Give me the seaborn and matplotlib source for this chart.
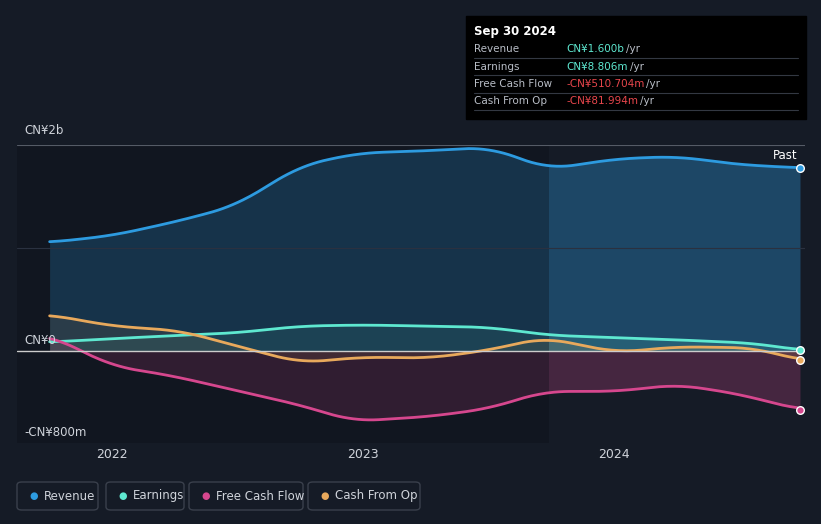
import numpy as np
import matplotlib.pyplot as plt
import matplotlib.patches as mpatches
import seaborn as sns

# x positions in fractional years
x_rev = [2021.75, 2022.0, 2022.27, 2022.49, 2022.75, 2022.98, 2023.26, 2023.5, 2023.74, 2024.01, 2024.25, 2024.49, 2024.74]
revenue = [0.95, 1.01, 1.14, 1.27, 1.62, 1.73, 1.75, 1.78, 1.59, 1.68, 1.70, 1.63, 1.60]
x_earn = [2021.75, 2022.0, 2022.27, 2022.49, 2022.75, 2023.0, 2023.5, 2023.74, 2024.25, 2024.56, 2024.74]
earnings = [0.08, 0.11, 0.14, 0.16, 0.22, 0.23, 0.21, 0.14, 0.10, 0.07, 0.009]
x_fcf = [2021.75, 2022.0, 2022.23, 2022.49, 2022.75, 2022.96, 2023.26, 2023.5, 2023.72, 2024.01, 2024.25, 2024.49, 2024.74]
fcf = [0.14, -0.13, -0.21, -0.34, -0.47, -0.61, -0.57, -0.50, -0.35, -0.35, -0.29, -0.37, -0.51]
x_cfo = [2021.75, 2022.0, 2022.27, 2022.49, 2022.75, 2023.0, 2023.26, 2023.5, 2023.72, 2024.01, 2024.25, 2024.56, 2024.74]
cfo = [0.32, 0.22, 0.18, 0.05, -0.10, -0.05, -0.06, 0.01, 0.12, -0.01, 0.04, 0.03, -0.08]

BG = "#151b26"
C_REV, C_EARN, C_FCF, C_CFO = "#2d9be0", "#5ee8d0", "#d6478e", "#e8a95c"

sns.set_style("dark")
fig = plt.figure(figsize=(8.21, 5.24), dpi=100, facecolor=BG)
ax = fig.add_axes([17/821, 1-443/524, 788/821, 298/524])
ax.set_facecolor(BG)

def smooth(xs, ys):
    xi = np.linspace(xs[0], xs[-1], 300)
    yi = np.interp(xi, xs, ys)
    k = 10
    pad = np.pad(yi, k, mode="edge")
    yi = np.convolve(pad, np.ones(2*k+1)/(2*k+1), mode="valid")
    yi[-1] = ys[-1]
    return xi, yi

for xs, ys, c, a in [(x_rev, revenue, C_REV, 0.35), (x_earn, earnings, C_EARN, 0.15),
                     (x_fcf, fcf, C_FCF, 0.25), (x_cfo, cfo, C_CFO, 0.15)]:
    xi, yi = smooth(xs, ys)
    ax.fill_between(xi, yi, 0, color=c, alpha=a, lw=0)
    sns.lineplot(x=xi, y=yi, ax=ax, color=c, lw=2)
    ax.scatter([xi[-1]], [yi[-1]], s=30, color=c, edgecolor="white", lw=1, zorder=5)

ax.axvspan(2021.62, 2023.74, color="#0b0f17", alpha=0.35, lw=0)
ax.axhline(0, color="#cccccc", lw=1)
ax.axhline(1.8, color="#555b66", lw=0.8)
ax.axhline(0.9, color="#2a3140", lw=0.8)
ax.set_xlim(2021.62, 2024.76)
ax.set_ylim(-0.8, 1.8)
ax.set_xticks([2022, 2023, 2024])
ax.set_xticklabels(["2022", "2023", "2024"], color="#cfd3da", fontsize=9)
ax.set_yticks([])
ax.tick_params(length=0)
ax.grid(False)
for s in ax.spines.values():
    s.set_visible(False)

fig.text(24/821, 1-131/524, "CN¥2b", color="#cfd3da", fontsize=8.5, va="center")
fig.text(24/821, 1-340/524, "CN¥0", color="#cfd3da", fontsize=8.5, va="center")
fig.text(24/821, 1-432/524, "-CN¥800m", color="#cfd3da", fontsize=8.5, va="center")
fig.text(797/821, 1-156/524, "Past", color="#ffffff", fontsize=8.5, va="center", ha="right")

# tooltip box
fig.patches.append(mpatches.Rectangle((466/821, 1-119/524), 340/821, 103/524,
                   transform=fig.transFigure, color="#000000", zorder=0))
fig.text(474/821, 1-31/524, "Sep 30 2024", color="white", fontsize=8.5, weight="bold", va="center")
rows = [("Revenue", "CN¥1.600b", C_EARN), ("Earnings", "CN¥8.806m", C_EARN),
        ("Free Cash Flow", "-CN¥510.704m", "#e8464c"), ("Cash From Op", "-CN¥81.994m", "#e8464c")]
renderer = fig.canvas.get_renderer()
for i, (lab, val, c) in enumerate(rows):
    y = 1 - (49 + i*17.5)/524
    fig.text(474/821, y, lab, color="#b8bdc6", fontsize=7.5, va="center")
    t = fig.text(566/821, y, val, color=c, fontsize=7.5, va="center")
    bb = t.get_window_extent(renderer)
    fig.text((bb.x1 + 2)/821, y, "/yr", color="#b8bdc6", fontsize=7.5, va="center")
    fig.lines.append(plt.Line2D([474/821, 798/821], [y-8.7/524]*2, transform=fig.transFigure, color="#333842", lw=0.8))

# legend
items = [("Revenue", C_REV, 17, 81), ("Earnings", C_EARN, 106, 78), ("Free Cash Flow", C_FCF, 189, 114), ("Cash From Op", C_CFO, 308, 112)]
for lab, c, x0, w in items:
    fig.patches.append(mpatches.FancyBboxPatch((x0/821, 1-510/524), w/821, 28/524, boxstyle="round,pad=0,rounding_size=0.006",
                       transform=fig.transFigure, facecolor=BG, edgecolor="#3a404c", lw=1))
    fig.text((x0+12)/821, 1-496/524, "●", color=c, fontsize=7, va="center")
    fig.text((x0+27)/821, 1-496/524, lab, color="#cfd3da", fontsize=8.5, va="center")

plt.savefig("out.png", dpi=100, facecolor=BG)
